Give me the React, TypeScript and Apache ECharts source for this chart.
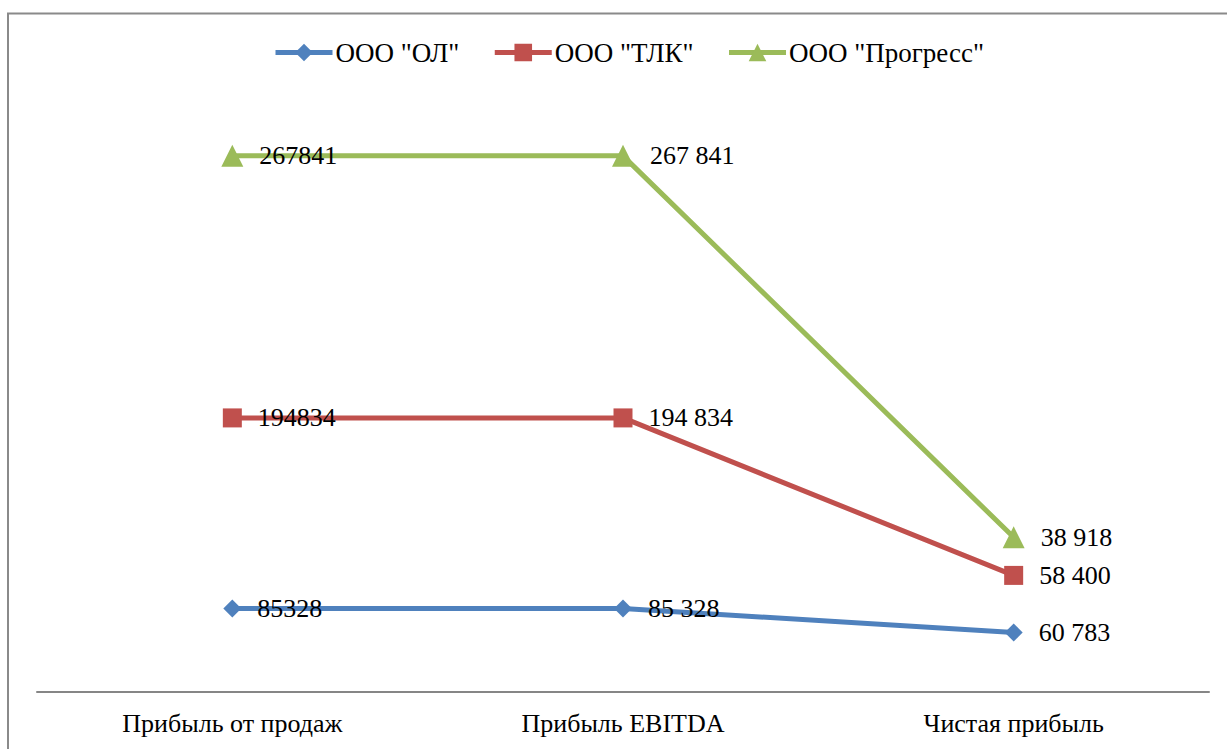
import React, { useEffect, useRef } from "react";
import * as echarts from "echarts";

const categories = ["Прибыль от продаж", "Прибыль EBITDA", "Чистая прибыль"];
const seriesNames = ['ООО "ОЛ"', 'ООО "ТЛК"', 'ООО "Прогресс"'];
const olValues = [85328, 85328, 60783];
const tlkValues = [194834, 194834, 58400];
const progressValues = [267841, 267841, 38918];
const colors = ["#4F81BD", "#C0504D", "#9BBB59"];
const symbols = ["diamond", "rect", "triangle"];
const symbolSizes = [18, 19, 22];

const FONT = "Times New Roman, Liberation Serif, DejaVu Serif, serif";

function fmt(v: number, idx: number): string {
  if (idx === 0) return String(v);
  return String(v).replace(/\B(?=(\d{3})+(?!\d))/g, " ");
}

export default function App() {
  const ref = useRef<HTMLDivElement>(null);
  useEffect(() => {
    if (!ref.current) return;
    const chart = echarts.init(ref.current, null, { renderer: "svg" });
    const all = [olValues, tlkValues, progressValues];
    chart.setOption({
      animation: false,
      backgroundColor: "#ffffff",
      textStyle: { fontFamily: FONT },
      graphic: [
        {
          type: "rect",
          shape: { x: 8, y: 13.5, width: 1300, height: 800 },
          style: { fill: "none", stroke: "#8a8a8a", lineWidth: 2 },
          silent: true,
          z: -1,
        },
      ],
      legend: {
        top: 39,
        left: 273,
        padding: 0,
        itemWidth: 57,
        itemHeight: 22,
        itemGap: 33,
        lineStyle: { width: 5 },
        textStyle: {
          fontFamily: FONT,
          fontSize: 27,
          color: "#000",
          padding: [0, 0, 0, -2],
        },
        data: seriesNames,
      },
      grid: { left: 37, right: 18, top: 105, bottom: 57, containLabel: false },
      xAxis: {
        type: "category",
        data: categories,
        boundaryGap: true,
        axisLine: { show: true, lineStyle: { color: "#868686", width: 2 } },
        axisTick: { show: false },
        axisLabel: { fontFamily: FONT, fontSize: 26, color: "#000", margin: 18 },
      },
      yAxis: {
        type: "value",
        min: 0,
        max: 600000,
        show: false,
        splitLine: { show: false },
      },
      series: all.map((vals, i) => ({
        name: seriesNames[i],
        type: "line",
        stack: "total",
        data: vals,
        symbol: symbols[i],
        symbolSize: symbolSizes[i],
        showAllSymbol: true,
        lineStyle: { color: colors[i], width: 5 },
        itemStyle: { color: colors[i] },
        label: {
          show: true,
          position: "right",
          distance: 16,
          fontFamily: FONT,
          fontSize: 26,
          color: "#000",
          formatter: (p: any) => fmt(p.value, p.dataIndex),
        },
        z: 2 + i,
      })),
    });
    return () => chart.dispose();
  }, []);
  return (
    <div
      ref={ref}
      style={{ position: "fixed", left: 0, top: 0, width: 1227, height: 749 }}
    />
  );
}
